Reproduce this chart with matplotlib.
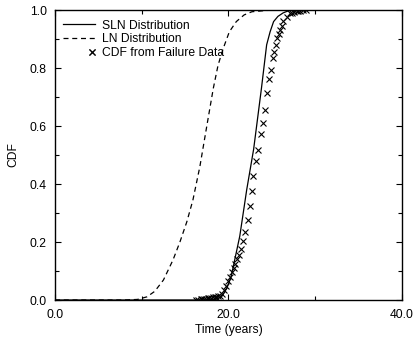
import matplotlib
matplotlib.use("Agg")
import matplotlib.pyplot as plt
from matplotlib.ticker import MultipleLocator, FormatStrFormatter
from matplotlib.legend_handler import HandlerLine2D

plt.rcParams['font.family'] = ['Liberation Sans', 'DejaVu Sans']
plt.rcParams['font.size'] = 8.7

# SLN distribution curve
sln_t = [0, 17.5, 18.5, 19.2, 19.8, 20.3, 21.3, 22.1, 22.9, 23.8, 24.4, 24.8, 25.2, 25.7, 26.3, 26.8, 27.4, 40]
sln_cdf = [0, 0, 0.002, 0.011, 0.04, 0.08, 0.22, 0.38, 0.52, 0.73, 0.88, 0.925, 0.96, 0.978, 0.99, 0.996, 1.0, 1.0]

# LN distribution curve
ln_t = [0, 8, 9.5, 10.6, 11.5, 12.5, 13.6, 14.4, 15.2, 15.9, 16.7, 17.5, 18.25, 18.8, 19.4, 20.1, 20.9, 21.8, 22.7, 25, 40]
ln_cdf = [0, 0, 0.002, 0.011, 0.03, 0.069, 0.138, 0.2, 0.27, 0.345, 0.46, 0.6, 0.73, 0.81, 0.868, 0.925, 0.96, 0.983, 0.994, 1.0, 1.0]

# empirical CDF from failure data
fail_t = [16.2, 16.5, 16.8, 17.0, 17.2, 17.4, 17.6, 17.8, 18.0, 18.2, 18.4, 18.6, 18.8, 19.0,
          19.2, 19.5, 19.7, 19.95, 20.2, 20.4, 20.6, 20.8, 21.0, 21.25, 21.45, 21.65, 21.9,
          22.25, 22.48, 22.67, 22.86, 23.17, 23.44, 23.72, 23.94, 24.2, 24.4, 24.7, 24.86,
          25.1, 25.25, 25.48, 25.63, 25.86, 25.94, 26.13, 26.32, 26.7, 27.1, 27.3, 27.6,
          27.85, 28.0, 28.3, 28.6, 28.9]
fail_cdf = [0.0, 0.001, 0.002, 0.003, 0.004, 0.005, 0.006, 0.007, 0.008, 0.009, 0.010, 0.012, 0.013, 0.015,
            0.02, 0.035, 0.05, 0.065, 0.08, 0.095, 0.11, 0.125, 0.14, 0.155, 0.175, 0.205, 0.235,
            0.276, 0.324, 0.377, 0.428, 0.479, 0.517, 0.572, 0.609, 0.655, 0.713, 0.762, 0.793,
            0.833, 0.856, 0.879, 0.902, 0.916, 0.931, 0.946, 0.962, 0.977, 0.988, 0.99, 0.993,
            0.995, 0.997, 0.998, 1.0, 1.0]


# legend marker sits at the right end of the handle, next to the text
class RightMarker(HandlerLine2D):
    def get_xdata(self, legend, xdescent, ydescent, width, height, fontsize):
        x = -xdescent + width - 2
        return [x, x], [x, x]


fig = plt.figure(figsize=(4.14, 3.39), dpi=100)
ax = fig.add_axes([0.1329, 0.115, 0.838, 0.8555])

ax.plot(sln_t, sln_cdf, color='black', linewidth=0.9, label='SLN Distribution')
ax.plot(ln_t, ln_cdf, color='black', linewidth=0.9, linestyle=(0, (4, 3)), label='LN Distribution')
pts, = ax.plot(fail_t, fail_cdf, linestyle='none', marker='x', markersize=5, markeredgewidth=0.8,
               color='black', label='CDF from Failure Data')

ax.set_xlim(0, 40)
ax.set_ylim(0, 1)
ax.xaxis.set_major_locator(MultipleLocator(20))
ax.xaxis.set_minor_locator(MultipleLocator(10))
ax.yaxis.set_major_locator(MultipleLocator(0.2))
ax.yaxis.set_minor_locator(MultipleLocator(0.1))
ax.xaxis.set_major_formatter(FormatStrFormatter('%.1f'))
ax.yaxis.set_major_formatter(FormatStrFormatter('%.1f'))
ax.tick_params(which='both', direction='in', top=True, right=True, width=0.8)
ax.tick_params(which='major', length=4)
ax.tick_params(which='minor', length=3)
ax.tick_params(axis='x', pad=6.5)
ax.tick_params(axis='y', pad=6)
for s in ax.spines.values():
    s.set_linewidth(1.0)

ax.set_xlabel('Time (years)', labelpad=2)
ax.set_ylabel('CDF', labelpad=7)

ax.legend(loc='upper left', frameon=False, handlelength=2.65, handletextpad=0.6,
          labelspacing=0.15, borderpad=0, borderaxespad=0, bbox_to_anchor=(0.023, 0.967),
          handler_map={pts: RightMarker(numpoints=2)})

fig.savefig('out.png', dpi=100)
